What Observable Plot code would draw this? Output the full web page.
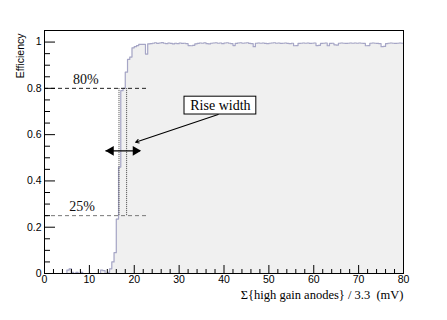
<!DOCTYPE html>
<html><head><meta charset="utf-8">
<script src="https://cdn.jsdelivr.net/npm/d3@7"></script>
<script src="https://cdn.jsdelivr.net/npm/@observablehq/plot@0.6"></script>
<style>body{margin:0;background:#fff}</style>
</head><body><div id="chart"></div>
<script>
// histogram bins: 0.5 wide, starting at 0
const binWidth = 0.5;
const efficiency = [
  0,0,0,0,0,0,0,0,0,0,
  0.015,0.02,0.005,0,0.005,0,0.005,0,0,0,
  0,0,0,0,0,0.015,0.012,0,0.005,0.02,
  0.05,0.09,0.235,0.46,0.79,0.80,0.87,0.925,0.935,0.975,
  0.98,0.985,0.99,0.99,0.99,0.948,
  0.992,0.993,0.995,0.997,0.994,0.996,0.998,0.995,0.993,0.996,
  0.994,0.992,0.995,0.993,0.996,0.994,0.995,0.993,0.985,0.984,
  0.986,0.992,0.994,0.996,0.995,0.997,0.993,0.992,0.995,0.996,
  0.997,0.995,0.996,0.993,0.996,0.997,0.995,0.993,0.985,0.994,
  0.996,0.997,0.995,0.996,0.997,0.994,0.993,0.98,0.995,0.996,
  0.995,0.996,0.994,0.993,0.995,0.996,0.997,0.995,0.996,0.994,
  0.995,0.996,0.994,0.993,0.995,0.984,0.985,0.994,0.995,0.996,
  0.995,0.996,0.994,0.995,0.996,0.985,0.986,0.994,0.995,0.996,
  0.984,0.994,0.995,0.988,0.987,0.995,0.996,0.995,0.994,0.995,
  0.996,0.995,0.996,0.995,0.996,0.995,0.994,0.984,0.985,0.995,
  0.996,0.995,0.994,0.993,0.98,0.981,0.993,0.995,0.996,0.995,
  0.994,0.995,0.996,0.995
];
const xMax = 80;
const xMajorTicks = [0,10,20,30,40,50,60,70,80];
const xMinorTicks = [2,4,6,8,12,14,16,18,22,24,26,28,32,34,36,38,42,44,46,48,52,54,56,58,62,64,66,68,72,74,76,78];
const yMajorTicks = [0,0.2,0.4,0.6,0.8,1];
const yMinorTicks = [0.05,0.1,0.15,0.25,0.3,0.35,0.45,0.5,0.55,0.65,0.7,0.75,0.85,0.9,0.95,1.05];
const thresholds = [
  {label:"80%", y:0.8, lx:9.2, ly:0.838, stroke:"#222"},
  {label:"25%", y:0.25, lx:8.4, ly:0.29, stroke:"#777"}
];
const thresholdEnd = 23.3;
const crossings = [16.6, 18.3];
const widthArrow = {x1:13.7, x2:21.4, y:0.53};
const calloutBox = {x1:31.2, x2:47.2, y1:0.687, y2:0.764, text:"Rise width"};
const calloutArrow = {x1:38.7, y1:0.687, x2:20.3, y2:0.567};
const xLabel = "\u03A3{high gain anodes} / 3.3  (mV)";
const yLabel = "Efficiency";

const pts = efficiency.map((v,i)=>({x:i*binWidth, y:v}));
pts.push({x:xMax, y:efficiency[efficiency.length-1]});

const sans = "Liberation Sans, Arial, sans-serif";
const serif = "Liberation Serif, Times New Roman, serif";

const chart = Plot.plot({
  width:447, height:320,
  marginLeft:44, marginRight:44, marginTop:30, marginBottom:47,
  x:{domain:[0,xMax]},
  y:{domain:[0,1.05]},
  style:{fontFamily:sans, background:"#fff"},
  marks:[
    Plot.areaY(pts, {x:"x", y:"y", curve:"step-after", fill:"#f0f0f0"}),
    Plot.line(pts, {x:"x", y:"y", curve:"step-after", stroke:"#a6a6c6", strokeWidth:1.2}),
    Plot.ruleY(thresholds, {y:"y", x1:0, x2:thresholdEnd, stroke:"stroke", strokeDasharray:"4,3", strokeWidth:1}),
    Plot.text(thresholds, {x:"lx", y:"ly", text:"label", fontFamily:serif, fontSize:14, fill:"#111"}),
    Plot.ruleX(crossings, {x:d=>d, y1:0.25, y2:0.8, stroke:"#444", strokeDasharray:"1,1", strokeWidth:1}),
    Plot.ruleY([widthArrow], {y:"y", x1:"x1", x2:"x2", stroke:"#000", strokeWidth:1.2}),
    Plot.dot([widthArrow], {x:"x1", y:"y", symbol:"triangle", r:3.6, fill:"#000", rotate:-90, dx:5}),
    Plot.dot([widthArrow], {x:"x2", y:"y", symbol:"triangle", r:3.6, fill:"#000", rotate:90, dx:-5}),
    Plot.arrow([calloutArrow], {x1:"x1", y1:"y1", x2:"x2", y2:"y2", stroke:"#000", strokeWidth:1.1, headLength:5}),
    Plot.rect([calloutBox], {x1:"x1", x2:"x2", y1:"y1", y2:"y2", fill:"#fff", stroke:"#000", strokeWidth:1}),
    Plot.text([calloutBox], {x:d=>(d.x1+d.x2)/2, y:d=>(d.y1+d.y2)/2, text:"text", fontFamily:serif, fontSize:14, fill:"#000"}),
    Plot.ruleX(xMajorTicks, {x:d=>d, y1:0, y2:0, insetTop:-8, stroke:"#000"}),
    Plot.ruleX(xMinorTicks, {x:d=>d, y1:0, y2:0, insetTop:-4, stroke:"#000"}),
    Plot.ruleY(yMajorTicks, {y:d=>d, x1:0, x2:0, insetRight:-11, stroke:"#000"}),
    Plot.ruleY(yMinorTicks, {y:d=>d, x1:0, x2:0, insetRight:-6, stroke:"#000"}),
    Plot.axisX({ticks:xMajorTicks, tickSize:0, tickPadding:2, label:null, fontSize:10.5, tickFormat:d=>String(d)}),
    Plot.axisY({ticks:yMajorTicks, tickSize:0, tickPadding:3, label:null, fontSize:10.5, tickFormat:d=>String(d)}),
    Plot.frame({stroke:"#000", strokeWidth:1}),
    Plot.text([xLabel], {frameAnchor:"bottom-right", text:d=>d, dy:25, textAnchor:"end", fontFamily:serif, fontSize:12.5, fill:"#000"}),
    Plot.text([yLabel], {frameAnchor:"top-left", text:d=>d, dx:-28, dy:3, rotate:-90, textAnchor:"end", fontFamily:sans, fontSize:10.5, fill:"#000"})
  ]
});
document.getElementById("chart").appendChild(chart);
</script>
</body></html>
